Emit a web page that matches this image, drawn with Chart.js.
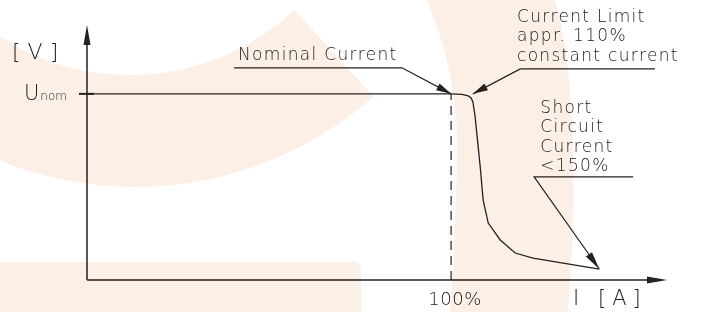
<!DOCTYPE html>
<html>
<head>
<meta charset="utf-8">
<script src="https://cdn.jsdelivr.net/npm/chart.js@4.4.1/dist/chart.umd.min.js"></script>
<style>
  html, body { margin: 0; padding: 0; background: #fff; }
  #wrap { width: 715px; height: 312px; }
</style>
</head>
<body>
<div id="wrap"><canvas id="chart"></canvas></div>
<script>
// characteristic: current in % of nominal, voltage in % of Unom
var currentPct = [0, 100, 103, 104.7, 105.5, 106, 106.6, 108, 108.8, 110.2, 113.5, 117.6, 122.5, 140.7];
var voltagePct = [100, 100, 99.7, 98.9, 97.8, 95.7, 87.6, 60.8, 43, 30.6, 21.5, 14.5, 11.8, 5.9];
// dashed marker at nominal current
var nominalCurrent = [100, 100];
var nominalVoltage = [0, 100];

var xTickValue = 100;
var xTickLabel = "100%";
var yTickValue = 100;
var yTickLabel = ["U", "nom"];
var xTitle = "I [A]";
var yTitle = "[V]";

var nominalNote = ["Nominal Current"];
var limitNote = ["Current Limit", "appr. 110%", "constant current"];
var shortNote = ["Short", "Circuit", "Current", "<150%"];

// where the notes sit, in axis units (x: % current, y: % voltage)
var notes = [
  { lines: nominalNote, target: [100, 100], textX: 41.5, textY: 118.3, shelfFrom: 40.4, shelfTo: 86.5, shelfY: 114, head: 15 },
  { lines: limitNote, target: [106, 100], textX: 118.1, textY: 138.7, shelfFrom: 156, shelfTo: 119, shelfY: 113.4, head: 15 },
  { lines: shortNote, target: [140.7, 5.9], textX: 124.5, textY: 89.8, shelfFrom: 150, shelfTo: 122.8, shelfY: 55.4, head: 18 }
];

var ink = "#222";
var noteFont = '200 17px "DejaVu Sans"';
var lineGap = 19.4;

function points(xs, ys) {
  var out = [];
  for (var i = 0; i < xs.length; i++) out.push({ x: xs[i], y: ys[i] });
  return out;
}

function arrowHead(ctx, fx, fy, tx, ty, len, half) {
  var a = Math.atan2(ty - fy, tx - fx);
  var bx = tx - Math.cos(a) * len, by = ty - Math.sin(a) * len;
  ctx.beginPath();
  ctx.moveTo(tx, ty);
  ctx.lineTo(bx + Math.sin(a) * half, by - Math.cos(a) * half);
  ctx.lineTo(bx - Math.sin(a) * half, by + Math.cos(a) * half);
  ctx.closePath();
  ctx.fill();
}

function text(ctx, str, x, y, font, spacing, align) {
  ctx.font = font;
  ctx.letterSpacing = (spacing || 0) + "px";
  ctx.textAlign = align || "left";
  ctx.textBaseline = "alphabetic";
  ctx.fillText(str, x, y);
}

function drawWatermark(ctx) {
  ctx.save();
  ctx.fillStyle = "#fcefe6";
  // left crescent, cut by a diagonal edge
  ctx.save();
  ctx.beginPath();
  ctx.moveTo(-1000, -400);
  ctx.lineTo(-84, -400);
  ctx.lineTo(930, 700);
  ctx.lineTo(-1000, 700);
  ctx.closePath();
  ctx.clip();
  ctx.beginPath();
  ctx.arc(135, -173, 360, 0, Math.PI * 2);
  ctx.arc(130, -165, 240, 0, Math.PI * 2);
  ctx.fill("evenodd");
  ctx.restore();
  // curved band on the right
  ctx.beginPath();
  ctx.moveTo(427, 0);
  ctx.quadraticCurveTo(460, 80, 457, 160);
  ctx.quadraticCurveTo(455, 250, 450, 312);
  ctx.lineTo(568, 312);
  ctx.quadraticCurveTo(575, 220, 573, 150);
  ctx.quadraticCurveTo(570, 50, 555, 0);
  ctx.closePath();
  ctx.fill();
  // bottom block
  ctx.beginPath();
  ctx.moveTo(0, 262);
  ctx.lineTo(353, 262);
  ctx.quadraticCurveTo(361, 262, 361, 270);
  ctx.lineTo(361, 312);
  ctx.lineTo(0, 312);
  ctx.closePath();
  ctx.fill();
  ctx.restore();
}

var drawing = {
  id: "drawing",
  beforeDraw: function (chart) {
    drawWatermark(chart.ctx);
  },
  afterDatasetsDraw: function (chart) {
    var ctx = chart.ctx;
    var xs = chart.scales.x, ys = chart.scales.y, area = chart.chartArea;
    var x0 = xs.getPixelForValue(0), y0 = ys.getPixelForValue(0);
    ctx.save();
    ctx.strokeStyle = ink;
    ctx.fillStyle = ink;

    // axes with arrows
    ctx.lineWidth = 1.5;
    ctx.beginPath();
    ctx.moveTo(x0, y0);
    ctx.lineTo(x0, area.top + 10);
    ctx.moveTo(x0, y0);
    ctx.lineTo(area.right - 10, y0);
    ctx.stroke();
    arrowHead(ctx, x0, y0, x0, area.top, 20, 3.5);
    arrowHead(ctx, x0, y0, area.right, y0, 20, 3.5);

    // Unom tick
    var yu = ys.getPixelForValue(yTickValue);
    ctx.lineWidth = 2;
    ctx.beginPath();
    ctx.moveTo(x0 - 8, yu);
    ctx.lineTo(x0 + 7, yu);
    ctx.stroke();

    // axis labels
    text(ctx, yTitle, x0 - 75, area.top + 34, '200 22px "DejaVu Sans"', 7);
    ctx.font = '200 21px "DejaVu Sans"';
    ctx.letterSpacing = "0px";
    var uw = ctx.measureText(yTickLabel[0]).width;
    text(ctx, yTickLabel[0], x0 - 63, yu + 6, '200 21px "DejaVu Sans"', 0);
    text(ctx, yTickLabel[1], x0 - 63 + uw + 1, yu + 6, '200 12px "DejaVu Sans"', 0);
    text(ctx, xTickLabel, xs.getPixelForValue(xTickValue) + 4, y0 + 25, '200 18px "DejaVu Sans"', 0.5, "center");
    text(ctx, xTitle, xs.getPixelForValue(133.5), y0 + 25, '200 21px "DejaVu Sans"', 6);

    // notes with leaders
    notes.forEach(function (n) {
      var tx = xs.getPixelForValue(n.target[0]), ty = ys.getPixelForValue(n.target[1]);
      var sa = xs.getPixelForValue(n.shelfFrom), sb = xs.getPixelForValue(n.shelfTo), sy = ys.getPixelForValue(n.shelfY);
      ctx.lineWidth = 1.2;
      ctx.beginPath();
      ctx.moveTo(sa, sy);
      ctx.lineTo(sb, sy);
      ctx.lineTo(tx, ty);
      ctx.stroke();
      arrowHead(ctx, sb, sy, tx, ty, n.head, 3.8);
      var bx = xs.getPixelForValue(n.textX), by = ys.getPixelForValue(n.textY);
      n.lines.forEach(function (line, i) {
        text(ctx, line, bx, by + i * lineGap, noteFont, 1.3);
      });
    });
    ctx.restore();
  }
};

new Chart(document.getElementById("chart"), {
  type: "line",
  data: {
    datasets: [
      {
        data: points(currentPct, voltagePct),
        borderColor: ink,
        borderWidth: 1.3,
        pointRadius: 0,
        tension: 0,
        fill: false
      },
      {
        data: points(nominalCurrent, nominalVoltage),
        borderColor: ink,
        borderWidth: 1.2,
        borderDash: [9, 6],
        pointRadius: 0,
        fill: false
      }
    ]
  },
  options: {
    responsive: true,
    maintainAspectRatio: false,
    animation: false,
    layout: { padding: { left: 87, right: 48, top: 25, bottom: 32 } },
    plugins: { legend: { display: false }, tooltip: { enabled: false } },
    scales: {
      x: { type: "linear", min: 0, max: 159.3, display: false },
      y: { type: "linear", min: 0, max: 137, display: false }
    }
  },
  plugins: [drawing]
});
</script>
</body>
</html>
